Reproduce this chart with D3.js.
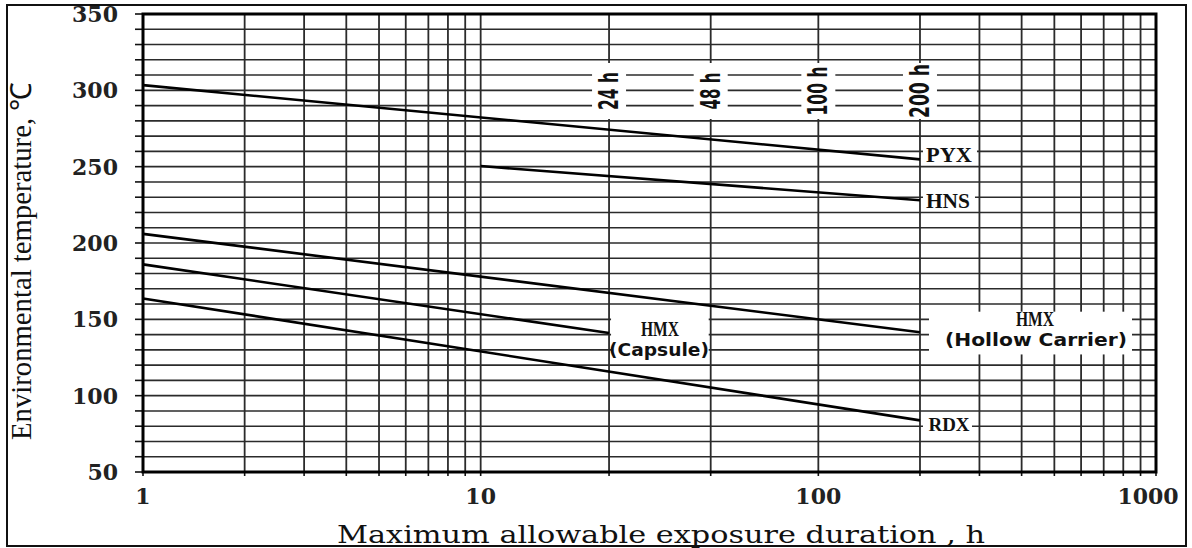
<!DOCTYPE html>
<html><head><meta charset="utf-8">
<script src="https://cdn.jsdelivr.net/npm/d3@7"></script>
<style>html,body{margin:0;padding:0;background:#fff;}svg{display:block;}</style>
</head><body>
<svg id="c" width="1192" height="548"></svg>
<script>
// ---- data ----
const xTickValues = [1, 10, 100, 1000];
const yTickValues = [50, 100, 150, 200, 250, 300, 350];
const vGridValues = [1,2,3,4,5,6,7,8,9,10,24,48,100,200,300,400,500,600,700,800,900,1000];
const durationMarks = [24, 48, 100, 200];
const durationLabels = ["24 h", "48 h", "100 h", "200 h"];
const durationLabelLen = [38, 37, 49, 54];
const seriesNames = ["PYX", "HNS", "HMX (Hollow Carrier)", "HMX (Capsule)", "RDX"];
const pyx = [[1, 303.4], [200, 254.8]];
const hns = [[10, 250.4], [200, 228.0]];
const hmxHollow = [[1, 206.0], [200, 141.5]];
const hmxCapsule = [[1, 186.0], [24, 141.0]];
const rdx = [[1, 163.7], [200, 83.8]];

const svg = d3.select("#c");
const x = d3.scaleLog().domain([1, 1000]).range([143, 1156]);
const y = d3.scaleLinear().domain([50, 350]).range([472, 14]);
const gridColor = "#2b2b2b";

// outer border
svg.append("rect").attr("x", 7).attr("y", 5).attr("width", 1179).attr("height", 541)
  .attr("fill", "#fff").attr("stroke", "#111").attr("stroke-width", 2);

// horizontal grid
const hGrid = d3.range(60, 350, 10);
svg.append("g").selectAll("line").data(hGrid).join("line")
  .attr("x1", x(1)).attr("x2", x(1000)).attr("y1", d => y(d)).attr("y2", d => y(d))
  .attr("stroke", gridColor).attr("stroke-width", 1.6);
// vertical grid
svg.append("g").selectAll("line").data(vGridValues).join("line")
  .attr("x1", d => x(d)).attr("x2", d => x(d)).attr("y1", y(350)).attr("y2", y(50))
  .attr("stroke", gridColor).attr("stroke-width", 1.8);

// left ticks every 10
svg.append("g").selectAll("line").data(d3.range(50, 351, 10)).join("line")
  .attr("x1", x(1) - 8).attr("x2", x(1)).attr("y1", d => y(d)).attr("y2", d => y(d))
  .attr("stroke", "#111").attr("stroke-width", 1.6);
// bottom ticks
svg.append("g").selectAll("line").data(vGridValues).join("line")
  .attr("x1", d => x(d)).attr("x2", d => x(d)).attr("y1", y(50)).attr("y2", y(50) + 4)
  .attr("stroke", "#111").attr("stroke-width", 1.6);

// frame
svg.append("rect").attr("x", x(1)).attr("y", y(350)).attr("width", x(1000) - x(1)).attr("height", y(50) - y(350))
  .attr("fill", "none").attr("stroke", "#000").attr("stroke-width", 3);

// white label boxes
function box(x0, y0, x1, y1) {
  svg.append("rect").attr("x", x0).attr("y", y0).attr("width", x1 - x0).attr("height", y1 - y0).attr("fill", "#fff");
}
durationMarks.forEach(d => box(x(d) - 17, 63, x(d) + 17, 119));
box(x(200) + 3, y(260) - 6, x(200) + 57, y(260) + 7);
box(x(200) + 3, y(230) - 6, x(200) + 55, y(230) + 8);
box(x(200) + 3, y(80) - 7, x(200) + 52, y(80) + 6);
box(x(200) + 9, y(155), x(1000) - 24, y(127));
box(x(24) + 2, y(152), x(48) - 2, y(126));

// series lines
const line = d3.line().x(d => x(d[0])).y(d => y(d[1]));
[pyx, hns, hmxHollow, hmxCapsule, rdx].forEach(s => {
  svg.append("path").attr("d", line(s)).attr("fill", "none").attr("stroke", "#000").attr("stroke-width", 2.6);
});

// duration labels (rotated)
durationMarks.forEach((d, i) => {
  svg.append("text")
    .attr("transform", `translate(${x(d) + 9},91) rotate(-90)`)
    .attr("text-anchor", "middle")
    .attr("font-family", "DejaVu Sans").attr("font-weight", "bold").attr("font-size", 27)
    .attr("textLength", durationLabelLen[i]).attr("lengthAdjust", "spacingAndGlyphs")
    .attr("fill", "#111")
    .text(durationLabels[i]);
});

// series labels
const serif = "Liberation Serif";
function lab(txt, cx, cy, len, size, fam, weight) {
  svg.append("text").attr("x", cx).attr("y", cy).attr("text-anchor", "middle")
    .attr("dominant-baseline", "central")
    .attr("font-family", fam).attr("font-size", size).attr("font-weight", weight || "normal")
    .attr("textLength", len).attr("lengthAdjust", "spacingAndGlyphs").attr("fill", "#111").text(txt);
}
lab(seriesNames[0], x(200) + 29, y(258) + 1, 46, 21, serif, "bold");
lab("HNS", x(200) + 28, y(228) + 1, 44, 21, serif, "bold");
lab("RDX", x(200) + 29, y(81), 41, 19, serif, "bold");
lab("HMX", 1035, 319, 38, 20, serif, "bold");
lab("(Hollow Carrier)", 1036, 340, 182, 17, "DejaVu Sans", "bold");
lab("HMX", 660, 329, 38, 20, serif, "bold");
lab("(Capsule)", 659, 350, 100, 17, "DejaVu Sans", "bold");

// y tick labels
svg.append("g").selectAll("text").data(yTickValues).join("text")
  .attr("x", 118).attr("y", d => y(d)).attr("text-anchor", "end").attr("dominant-baseline", "central")
  .attr("font-family", "DejaVu Serif").attr("font-weight", "bold").attr("font-size", 22)
  .attr("fill", "#222").text(d => d);
// x tick labels
svg.append("g").selectAll("text").data(xTickValues).join("text")
  .attr("x", d => d === 1000 ? x(d) - 8 : x(d)).attr("y", 496).attr("text-anchor", "middle").attr("dominant-baseline", "central")
  .attr("font-family", "DejaVu Serif").attr("font-weight", "bold").attr("font-size", 22)
  .attr("fill", "#222").text(d => d);

// axis titles
svg.append("text").attr("x", 337).attr("y", 543)
  .attr("font-family", "DejaVu Serif").attr("font-size", 24).attr("fill", "#111")
  .attr("textLength", 648).attr("lengthAdjust", "spacingAndGlyphs")
  .text("Maximum allowable exposure duration , h");
svg.append("text").attr("transform", "translate(31,440) rotate(-90)")
  .attr("font-family", "Liberation Serif").attr("font-size", 29).attr("fill", "#111")
  .attr("textLength", 358).attr("lengthAdjust", "spacingAndGlyphs")
  .text("Environmental temperature, ℃");
</script>
</body></html>
